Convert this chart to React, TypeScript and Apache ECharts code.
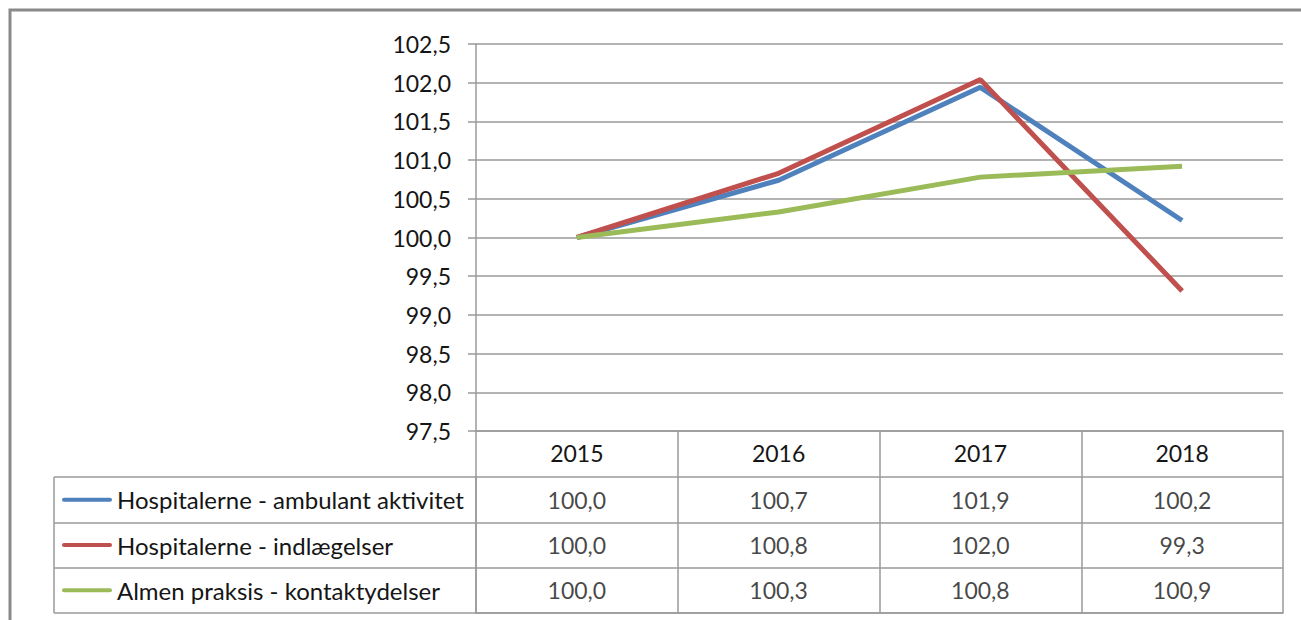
import React, { useEffect, useRef } from "react";
import * as echarts from "echarts";

const years = ["2015", "2016", "2017", "2018"];
const seriesNames = [
  "Hospitalerne - ambulant aktivitet",
  "Hospitalerne - indlægelser",
  "Almen praksis - kontaktydelser",
];
const ambulant = [100.0, 100.74, 101.94, 100.22];
const indlaeggelser = [100.0, 100.83, 102.04, 99.31];
const almen = [100.0, 100.33, 100.78, 100.92];
const seriesValues = [ambulant, indlaeggelser, almen];
const colors = ["#4F81BD", "#C0504D", "#9BBB59"];

const FONT = "Lato";
const TXT = "#151515";
const LINE = "#9a9a9a";
const NUM_SIZE = 23;
const NAME_SIZE = 24;

const fmt = (v: number) => v.toFixed(1).replace(".", ",");

export default function App() {
  const ref = useRef<HTMLDivElement>(null);
  useEffect(() => {
    document.body.style.margin = "0";
    const chart = echarts.init(ref.current!, null, { renderer: "svg" });
    const W = 1301;
    const plotLeft = 476;
    const plotRight = 1283;
    const plotTop = 44;
    const plotBottom = 431;
    const tableTop = 477;
    const tableBottom = 613;
    const tableLeft = 54;

    const tableData: any[] = [];
    seriesValues.forEach((vals, s) => {
      vals.forEach((v, i) => {
        tableData.push([years[i], seriesNames[s], v]);
      });
    });

    const rich: any = {
      t: { fontFamily: FONT, fontSize: NAME_SIZE, color: TXT, padding: [0, 0, 0, 5] },
    };
    colors.forEach((c, i) => {
      rich["k" + i] = { width: 50, height: 4, backgroundColor: c, borderRadius: 2 };
    });

    chart.setOption({
      animation: false,
      textStyle: { fontFamily: FONT },
      grid: [
        { left: plotLeft, right: W - plotRight, top: plotTop, height: plotBottom - plotTop },
        { left: plotLeft, right: W - plotRight, top: tableTop, height: tableBottom - tableTop },
      ],
      xAxis: [
        {
          type: "category",
          gridIndex: 0,
          data: years,
          boundaryGap: true,
          axisLine: { show: true, lineStyle: { color: LINE, width: 1.5 } },
          axisTick: {
            show: true,
            alignWithLabel: false,
            length: tableTop - plotBottom,
            lineStyle: { color: LINE, width: 1.5 },
          },
          axisLabel: { margin: 10, fontSize: NUM_SIZE, color: TXT, fontFamily: FONT },
          splitLine: { show: false },
        },
        {
          type: "category",
          gridIndex: 1,
          data: years,
          boundaryGap: true,
          axisLine: { show: true, lineStyle: { color: LINE, width: 1.5 } },
          axisTick: { show: false },
          axisLabel: { show: false },
          splitLine: { show: true, lineStyle: { color: LINE, width: 1.5 } },
        },
      ],
      yAxis: [
        {
          type: "value",
          gridIndex: 0,
          min: 97.5,
          max: 102.5,
          interval: 0.5,
          axisLine: { show: true, lineStyle: { color: LINE, width: 1.5 } },
          axisTick: { show: true, length: 8, lineStyle: { color: LINE, width: 1.5 } },
          axisLabel: {
            margin: 25,
            fontSize: NUM_SIZE,
            color: TXT,
            fontFamily: FONT,
            formatter: (v: number) => fmt(v),
          },
          splitLine: { show: true, lineStyle: { color: LINE, width: 1.5 } },
        },
        {
          type: "category",
          gridIndex: 1,
          data: seriesNames,
          inverse: true,
          boundaryGap: true,
          axisLine: { show: true, lineStyle: { color: LINE, width: 1.5 } },
          axisTick: {
            show: true,
            alignWithLabel: false,
            length: plotLeft - tableLeft,
            lineStyle: { color: LINE, width: 1.5 },
          },
          axisLabel: {
            margin: plotLeft - 62,
            align: "left",
            formatter: (v: string) => {
              const i = seriesNames.indexOf(v);
              return "{k" + i + "|}{t|" + v + "}";
            },
            rich,
          },
          splitLine: { show: true, lineStyle: { color: LINE, width: 1.5 } },
        },
      ],
      series: [
        ...seriesNames.map((name, s) => ({
          type: "line",
          name,
          xAxisIndex: 0,
          yAxisIndex: 0,
          data: seriesValues[s],
          symbol: "none",
          smooth: false,
          lineStyle: { color: colors[s], width: 5 },
          z: 3 + (s === 2 ? 1 : 0),
        })),
        {
          type: "scatter",
          xAxisIndex: 1,
          yAxisIndex: 1,
          data: tableData,
          symbolSize: 1,
          itemStyle: { color: "transparent" },
          label: {
            show: true,
            position: "inside",
            fontSize: NUM_SIZE,
            color: TXT,
            fontFamily: FONT,
            formatter: (p: any) => fmt(p.value[2]),
          },
          silent: true,
        },
      ],
      graphic: [
        {
          type: "rect",
          shape: { x: 10, y: 10, width: 1400, height: 800 },
          style: { fill: "none", stroke: "#8a8a8a", lineWidth: 3 },
          silent: true,
        },
        {
          type: "line",
          shape: { x1: tableLeft, y1: tableTop, x2: tableLeft, y2: tableBottom },
          style: { stroke: LINE, lineWidth: 1.5 },
          silent: true,
        },
      ],
    });
    return () => chart.dispose();
  }, []);
  return <div ref={ref} style={{ width: 1301, height: 620 }} />;
}
